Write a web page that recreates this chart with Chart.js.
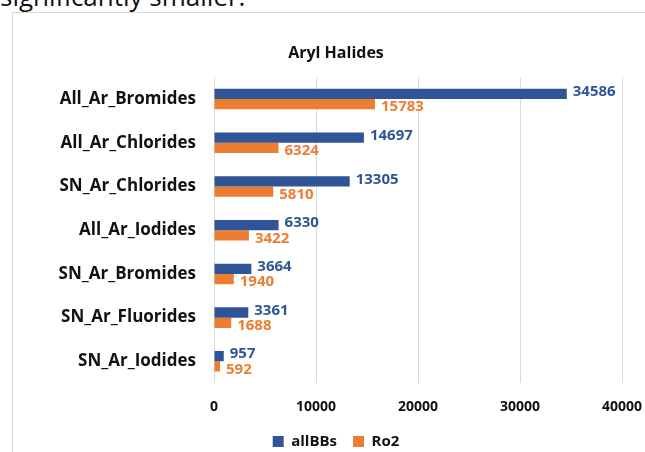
<!DOCTYPE html>
<html>
<head>
<meta charset="utf-8">
<script src="https://cdn.jsdelivr.net/npm/chart.js@4.4.1/dist/chart.umd.min.js"></script>
<style>
  html, body { margin: 0; padding: 0; background: #fff; overflow: hidden; }
  body { width: 645px; height: 452px; position: relative; font-family: "Open Sans", sans-serif; }
  #topText { position: absolute; left: 0; top: -17px; font-size: 26px; line-height: 26px; color: #111; white-space: nowrap; }
  #frame { position: absolute; left: 12px; top: 12px; width: 700px; height: 500px;
           border-left: 1px solid #d9d9d9; border-top: 1px solid #d9d9d9; }
  #wrap { position: absolute; left: 13px; top: 13px; width: 632px; height: 439px; }
</style>
</head>
<body>
<div id="topText">significantly smaller.</div>
<div id="frame"></div>
<div id="wrap"><canvas id="chart"></canvas></div>
<script>
// data
const categories = ['All_Ar_Bromides', 'All_Ar_Chlorides', 'SN_Ar_Chlorides', 'All_Ar_Iodides',
                    'SN_Ar_Bromides', 'SN_Ar_Fluorides', 'SN_Ar_Iodides'];
const allBBs = [34586, 14697, 13305, 6330, 3664, 3361, 957];
const ro2 = [15783, 6324, 5810, 3422, 1940, 1688, 592];
const xTicks = [0, 10000, 20000, 30000, 40000];

const BLUE = '#2F5597';
const ORANGE = '#ED7D31';
const TEXT = '#111111';
const FONT = '"Open Sans", sans-serif';

// value labels at the end of each bar
const valueLabels = {
    id: 'valueLabels',
    afterDatasetsDraw(chart) {
        const ctx = chart.ctx;
        ctx.save();
        ctx.font = `bold 15px ${FONT}`;
        ctx.textBaseline = 'middle';
        ctx.textAlign = 'left';
        chart.data.datasets.forEach((ds, i) => {
            const meta = chart.getDatasetMeta(i);
            ctx.fillStyle = ds.backgroundColor;
            const dy = i === 0 ? -2 : 3;
            meta.data.forEach((bar, j) => {
                ctx.fillText(ds.data[j], bar.x + 6, bar.y + dy);
            });
        });
        ctx.restore();
    }
};

new Chart(document.getElementById('chart'), {
    type: 'bar',
    data: {
        labels: categories,
        datasets: [
            { label: 'allBBs', data: allBBs, backgroundColor: BLUE, barPercentage: 1, categoryPercentage: 0.47 },
            { label: 'Ro2', data: ro2, backgroundColor: ORANGE, barPercentage: 1, categoryPercentage: 0.47 }
        ]
    },
    plugins: [valueLabels],
    options: {
        indexAxis: 'y',
        responsive: true,
        maintainAspectRatio: false,
        animation: false,
        layout: { padding: { left: 14, right: 0, top: 0, bottom: -7 } },
        plugins: {
            title: {
                display: true,
                text: 'Aryl Halides',
                color: TEXT,
                font: { family: FONT, size: 16, weight: 'bold' },
                padding: { top: 31, bottom: 14 }
            },
            legend: {
                position: 'bottom',
                labels: {
                    color: TEXT,
                    font: { family: FONT, size: 15, weight: 'bold' },
                    boxWidth: 11,
                    boxHeight: 11,
                    padding: 16
                }
            },
            tooltip: { enabled: false }
        },
        scales: {
            x: {
                min: 0,
                max: 40000,
                afterBuildTicks: (axis) => { axis.ticks = xTicks.map(v => ({ value: v })); },
                afterFit: (axis) => { axis.paddingRight = 23; axis.height -= 12; },
                grid: { color: '#d9d9d9', drawTicks: false },
                border: { display: false },
                ticks: {
                    color: TEXT,
                    padding: 15,
                    font: { family: FONT, size: 14, weight: 'bold' },
                    callback: (v) => String(v)
                }
            },
            y: {
                afterFit: (axis) => { axis.width = 187; },
                grid: { display: false },
                border: { display: false },
                ticks: {
                    color: TEXT,
                    padding: 10,
                    font: { family: FONT, size: 17, weight: 'bold' }
                }
            }
        }
    }
});
</script>
</body>
</html>
